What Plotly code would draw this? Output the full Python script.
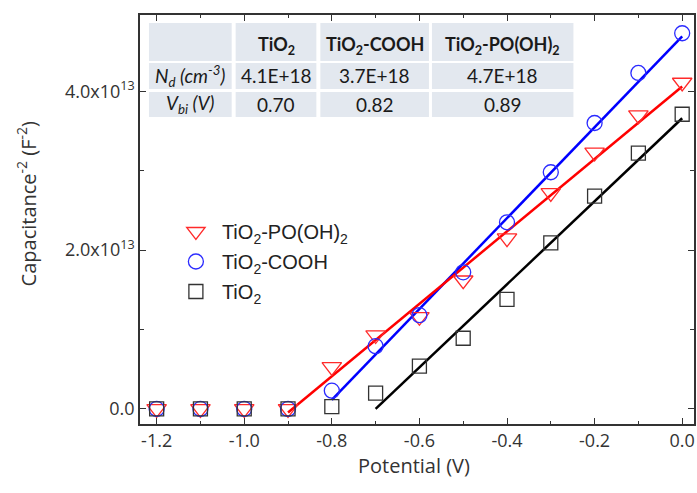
import plotly.graph_objects as go

# ---------------- data ----------------
potential = [-1.2, -1.1, -1.0, -0.9, -0.8, -0.7, -0.6, -0.5, -0.4, -0.3, -0.2, -0.1, 0.0]
c2_tio2 = [0.0, 0.0, 0.0, 0.0, 0.03e13, 0.20e13, 0.54e13, 0.89e13, 1.38e13, 2.09e13, 2.68e13, 3.22e13, 3.71e13]
c2_cooh = [0.0, 0.0, 0.0, 0.0, 0.23e13, 0.79e13, 1.18e13, 1.72e13, 2.35e13, 2.98e13, 3.60e13, 4.23e13, 4.73e13]
c2_po = [0.0, 0.0, 0.0, 0.0, 0.53e13, 0.93e13, 1.16e13, 1.62e13, 2.15e13, 2.72e13, 3.23e13, 3.70e13, 4.11e13]

# linear (Mott-Schottky) fits: order TiO2, COOH, PO(OH)2
fit_vbi = [0.70, 0.82, 0.89]
fit_y_at_zero = [3.66e13, 4.69e13, 4.06e13]
fit_x_start = [-0.70, -0.80, -0.90]

# inset table
table_header = ["", "TiO<sub>2</sub>", "TiO<sub>2</sub>-COOH", "TiO<sub>2</sub>-PO(OH)<sub>2</sub>"]
table_nd = ["<i>N<sub>d</sub> (cm<sup>-3</sup>)</i>", "4.1E+18", "3.7E+18", "4.7E+18"]
table_vbi = ["<i>V<sub>bi</sub> (V)</i>", "0.70", "0.82", "0.89"]

x_ticks = [-1.2, -1.0, -0.8, -0.6, -0.4, -0.2, 0.0]
x_ticklabels = ["-1.2", "-1.0", "-0.8", "-0.6", "-0.4", "-0.2", "0.0"]
y_ticks = [0.0, 2e13, 4e13]
y_ticklabels = ["0.0", "2.0x10<sup>13</sup>", "4.0x10<sup>13</sup>"]

# ---------------- layout geometry ----------------
W, H = 697, 493
L, R, T, B = 140, 1, 15, 69
PW, PH = W - L - R, H - T - B


def px(xp):
    return (xp - L) / PW


def py(yp):
    return (H - B - yp) / PH


fig = go.Figure()

# fit lines
line_colors = ["#000000", "#0000ff", "#ff0000"]
for vbi, y0, xs, col in zip(fit_vbi, fit_y_at_zero, fit_x_start, line_colors):
    slope = y0 / vbi
    xs_line = [xs, 0.0]
    ys_line = [slope * (x + vbi) for x in xs_line]
    fig.add_trace(go.Scatter(x=xs_line, y=ys_line, mode="lines",
                             line=dict(color=col, width=2.5), showlegend=False,
                             hoverinfo="skip"))

# markers (legend order: PO(OH)2, COOH, TiO2)
fig.add_trace(go.Scatter(x=potential, y=c2_po, mode="markers",
                         name="TiO<sub>2</sub>-PO(OH)<sub>2</sub>", legendgroup="a",
                         marker=dict(symbol="triangle-down-open", size=17,
                                     color="#ff2a2a", line=dict(width=1.3))))
fig.add_trace(go.Scatter(x=potential, y=c2_cooh, mode="markers",
                         name="TiO<sub>2</sub>-COOH", legendgroup="b",
                         marker=dict(symbol="circle-open", size=15,
                                     color="#2a2aff", line=dict(width=1.3))))
fig.add_trace(go.Scatter(x=potential, y=c2_tio2, mode="markers",
                         name="TiO<sub>2</sub>", legendgroup="c",
                         marker=dict(symbol="square-open", size=14,
                                     color="#333333", line=dict(width=1.3))))

# ---------------- inset table ----------------
col_edges = [(149, 232), (236, 317), (321, 430), (433, 575)]
row_edges = [(23, 61), (63, 89), (92, 117)]
rows = [table_header, table_nd, table_vbi]
shapes = []
annotations = []
for ri, (r0, r1) in enumerate(row_edges):
    for ci, (c0, c1) in enumerate(col_edges):
        shapes.append(dict(type="rect", xref="paper", yref="paper",
                           x0=px(c0), x1=px(c1), y0=py(r1), y1=py(r0),
                           fillcolor="#e3e8ef", line=dict(width=0), layer="below"))
        txt = rows[ri][ci]
        if txt:
            if ri == 0:
                txt = "<b>" + txt + "</b>"
                fnt = dict(family="Lato", size=18, color="#1a1a1a")
            else:
                fnt = dict(family="Lato", size=19, color="#1a1a1a")
            annotations.append(dict(x=px((c0 + c1) / 2), y=py((r0 + r1) / 2 + (3 if ri == 0 else 0)),
                                    xref="paper", yref="paper", text=txt,
                                    showarrow=False, font=fnt,
                                    xanchor="center", yanchor="middle"))

# axis titles as annotations
annotations.append(dict(x=px(415), y=py(466), xref="paper", yref="paper",
                        text="Potential (V)", showarrow=False,
                        font=dict(family="Open Sans", size=20, color="#333333"),
                        xanchor="center", yanchor="middle"))
annotations.append(dict(x=px(27), y=py(204), xref="paper", yref="paper",
                        text="Capacitance<sup>-2</sup> (F<sup>-2</sup>)", showarrow=False,
                        textangle=-90,
                        font=dict(family="Open Sans", size=20, color="#333333"),
                        xanchor="center", yanchor="middle"))

fig.update_layout(
    width=W, height=H,
    margin=dict(l=L, r=R, t=T, b=B, pad=0),
    paper_bgcolor="white", plot_bgcolor="white",
    font=dict(family="Open Sans", size=16, color="#333333"),
    shapes=shapes, annotations=annotations,
    legend=dict(x=px(170), y=py(212), xanchor="left", yanchor="top",
                bgcolor="rgba(0,0,0,0)", traceorder="grouped", tracegroupgap=1,
                itemwidth=42,
                font=dict(family="Liberation Sans", size=20, color="#222222")),
    showlegend=True,
)

fig.update_xaxes(
    range=[-1.238, 0.027], showgrid=False, zeroline=False,
    showline=True, linecolor="#333333", linewidth=1.5, mirror="ticks",
    ticks="inside", ticklen=6, tickwidth=1.3, tickcolor="#333333",
    tickvals=x_ticks, ticktext=x_ticklabels,
    tickfont=dict(family="Open Sans", size=18, color="#333333"),
    minor=dict(dtick=0.1, tick0=0, ticks="inside", ticklen=3, tickwidth=1.3, tickcolor="#333333"),
)
fig.update_yaxes(
    range=[-0.19e13, 4.96e13], showgrid=False, zeroline=False,
    showline=True, linecolor="#333333", linewidth=1.5, mirror="ticks",
    ticks="inside", ticklen=6, tickwidth=1.3, tickcolor="#333333",
    tickvals=y_ticks, ticktext=y_ticklabels,
    tickfont=dict(family="Open Sans", size=18, color="#333333"),
    minor=dict(dtick=1e13, tick0=0, ticks="inside", ticklen=4, tickwidth=1.3, tickcolor="#333333"),
)

fig.write_html("out.html", config={"displayModeBar": False},
               post_script="document.body.style.margin='0px';")
